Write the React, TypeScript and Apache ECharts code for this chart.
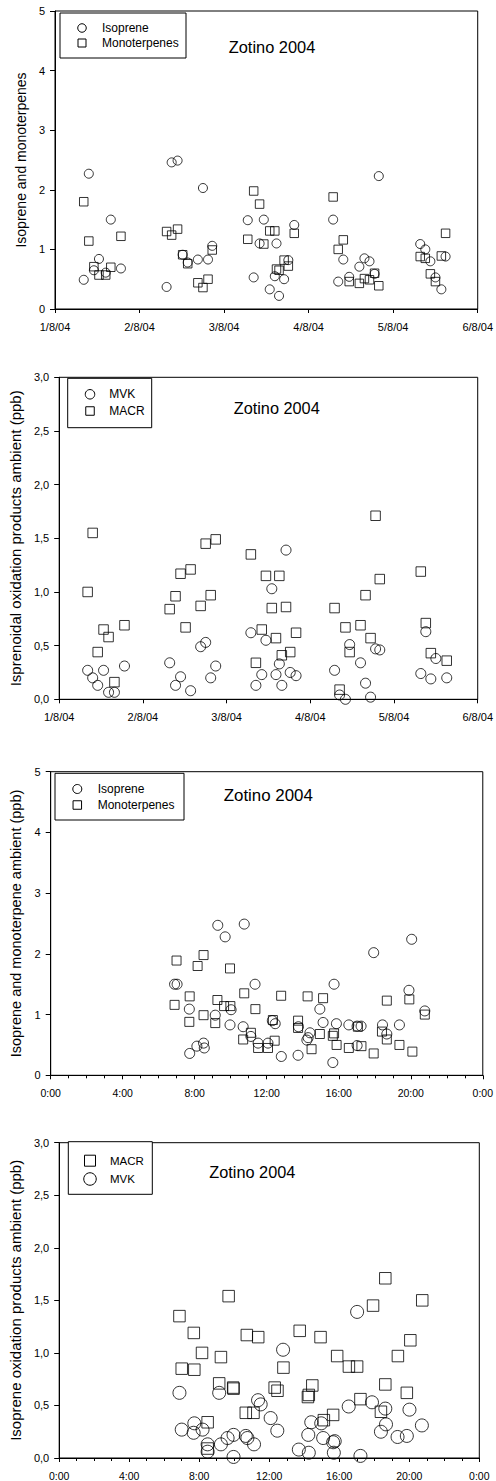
import React, { useEffect, useRef } from "react";
import * as echarts from "echarts";

// ---- Axis tick labels ----
const dateTicks = ["1/8/04", "2/8/04", "3/8/04", "4/8/04", "5/8/04", "6/8/04"];
const hourTicks = ["0:00", "4:00", "8:00", "12:00", "16:00", "20:00", "0:00"];

// ---- Panel 1: isoprene / monoterpenes by sampling time (days since 1/8/04) ----
const dailyTimes = [
  0.34, 0.40, 0.46, 0.52, 0.60, 0.66, 0.78,
  1.32, 1.38, 1.45, 1.51, 1.57, 1.69, 1.75, 1.81, 1.86,
  2.28, 2.35, 2.42, 2.47, 2.54, 2.60, 2.62, 2.65, 2.71, 2.76, 2.83,
  3.29, 3.35, 3.41, 3.48, 3.60, 3.66, 3.72, 3.78, 3.83,
  4.32, 4.38, 4.44, 4.50, 4.57, 4.62,
];
const isoprene = [
  0.49, 2.27, 0.65, 0.84, 0.61, 1.50, 0.68,
  0.37, 2.46, 2.49, 0.91, 0.78, 0.83, 2.03, 0.83, 1.06,
  1.49, 0.53, 1.10, 1.50, 0.33, 0.55, 1.10, 0.22, 0.50, 0.82, 1.41,
  1.50, 0.46, 0.83, 0.54, 0.71, 0.85, 0.80, 0.59, 2.23,
  1.09, 1.00, 0.80, 0.53, 0.33, 0.88,
];
const monoterpenes = [
  1.80, 1.14, 0.71, 0.57, 0.57, 0.70, 1.22,
  1.30, 1.24, 1.34, 0.91, 0.76, 0.44, 0.36, 0.50, 0.99,
  1.17, 1.98, 1.76, 1.09, 1.31, 1.31, 0.67, 0.65, 0.82, 0.72, 1.27,
  1.88, 1.00, 1.16, 0.46, 0.43, 0.51, 0.49, 0.60, 0.39,
  0.88, 0.85, 0.59, 0.46, 0.89, 1.27,
];

// ---- Panel 2: MVK / MACR by sampling time (days since 1/8/04) ----
const oxTimes = [
  0.34, 0.40, 0.46, 0.53, 0.59, 0.66, 0.78,
  1.32, 1.39, 1.45, 1.51, 1.57, 1.69, 1.75, 1.81, 1.87,
  2.29, 2.35, 2.42, 2.47, 2.54, 2.59, 2.63, 2.66, 2.71, 2.76, 2.83,
  3.29, 3.35, 3.42, 3.47, 3.60, 3.66, 3.72, 3.78, 3.83,
  4.32, 4.38, 4.44, 4.50, 4.63,
];
const mvk = [
  0.27, 0.20, 0.13, 0.27, 0.065, 0.065, 0.31,
  0.34, 0.13, 0.21, null, 0.08, 0.49, 0.53, 0.20, 0.31,
  0.62, 0.13, 0.23, 0.55, 1.03, 0.23, 0.33, 0.13, 1.39, 0.25, 0.22,
  0.27, 0.04, 0.00, 0.51, 0.34, 0.15, 0.02, 0.47, 0.46,
  0.24, 0.63, 0.19, 0.38, 0.20,
];
const macr = [
  1.00, 1.55, 0.44, 0.65, 0.58, 0.16, 0.69,
  0.84, 0.96, 1.17, 0.67, 1.21, 0.87, 1.45, 0.97, 1.49,
  1.35, 0.34, 0.65, 1.15, 0.85, 0.57, 1.15, 0.41, 0.86, 0.44, 0.62,
  0.85, 0.09, 0.67, 0.44, 0.69, 0.97, 0.57, 1.71, 1.12,
  1.19, 0.71, 0.43, null, 0.36,
];

// ---- Panel 3: isoprene / monoterpenes by hour of day ----
const isopreneHours = [
  6.88, 7.02, 7.70, 7.72, 8.12, 8.49, 8.53, 9.14, 9.28, 9.69, 9.96, 10.02,
  10.69, 10.75, 11.12, 11.35, 11.52, 12.07, 12.31, 12.47, 12.81, 13.74, 13.76,
  14.23, 14.30, 14.40, 14.95, 15.13, 15.67, 15.74, 15.87, 16.56, 17.02, 17.02,
  17.24, 17.94, 18.43, 18.67, 19.37, 19.90, 20.05, 20.78,
];
const isopreneDiurnal = [
  1.50, 1.50, 1.09, 0.36, 0.48, 0.53, 0.45, 0.99, 2.47, 2.28, 0.83, 1.08,
  0.80, 2.49, 0.64, 1.50, 0.53, 0.53, 0.90, 0.85, 0.31, 0.33, 0.80,
  0.58, 0.62, 0.70, 1.09, 0.87, 0.21, 1.50, 0.85, 0.83, 0.49, 0.81,
  0.81, 2.02, 0.83, 0.68, 0.83, 1.40, 2.24, 1.06,
];
const monoterpeneHours = [
  6.88, 6.99, 7.72, 7.70, 8.16, 8.49, 8.49, 9.14, 9.26, 9.63, 9.96, 9.98,
  10.69, 10.75, 11.12, 11.37, 11.52, 12.07, 12.34, 12.44, 12.80, 13.74, 13.74,
  14.27, 14.49, 14.95, 15.13, 15.67, 15.74, 15.88, 16.56, 17.06, 17.26, 17.94,
  18.40, 18.67, 18.67, 19.37, 19.92, 20.09, 20.78,
];
const monoterpeneDiurnal = [
  1.16, 1.89, 1.30, 0.88, 1.80, 1.98, 0.99, 0.86, 1.24, 1.14, 1.76, 1.14,
  0.59, 1.35, 0.70, 1.09, 0.45, 0.45, 0.91, 0.57, 1.31, 0.90, 0.78,
  1.30, 0.43, 0.68, 1.27, 0.65, 0.69, 0.50, 0.45, 0.80, 0.48, 0.36,
  0.72, 1.23, 0.59, 0.50, 1.25, 0.39, 1.00,
];

// ---- Panel 4: MACR / MVK by hour of day ----
const macrHours = [
  6.87, 7.00, 7.69, 7.72, 8.16, 8.48, 8.48, 9.14, 9.24, 9.68, 9.94, 9.96,
  10.66, 10.72, 11.10, 11.37, 12.31, 12.47, 12.81, 13.74, 14.21, 14.26, 14.46,
  14.93, 15.12, 15.65, 15.88, 16.55, 17.02, 17.21, 17.93, 18.38, 18.63, 18.63,
  19.35, 19.86, 20.06, 20.74,
];
const macrDiurnal = [
  1.35, 0.85, 1.19, 0.84, 1.00, 0.34, 0.09, 0.71, 0.96, 1.54, 0.67, 0.66,
  0.43, 1.17, 0.43, 1.15, 0.67, 0.64, 0.86, 1.21, 0.58, 0.60, 0.69,
  1.15, 0.36, 0.41, 0.97, 0.87, 0.87, 0.56, 1.45, 0.44, 0.70, 1.71,
  0.97, 0.62, 1.12, 1.50,
];
const mvkHours = [
  6.87, 7.00, 7.68, 7.72, 8.19, 8.48, 8.48, 9.14, 9.24, 9.62, 9.96, 9.96,
  10.66, 10.75, 11.13, 11.36, 11.51, 12.08, 12.46, 12.79, 13.69, 14.23, 14.26,
  14.40, 14.97, 15.08, 15.65, 15.69, 15.74, 16.54, 17.02, 17.21, 17.87, 18.38,
  18.63, 18.67, 19.33, 19.86, 20.01, 20.72,
];
const mvkDiurnal = [
  0.62, 0.27, 0.24, 0.33, 0.27, 0.13, 0.06, 0.62, 0.13, 0.19, 0.22, 0.01,
  0.21, 0.19, 0.13, 0.55, 0.51, 0.38, 0.26, 1.03, 0.08, 0.22, 0.05,
  0.34, 0.33, 0.19, 0.15, 0.05, 0.16, 0.49, 1.39, 0.02, 0.53, 0.25,
  0.47, 0.32, 0.20, 0.21, 0.46, 0.31,
];

const FONT = "'Liberation Sans', Arial, Helvetica, sans-serif";
const INK = "#000";

const pairs = (xs: number[], ys: (number | null)[]) =>
  xs
    .map((x, i) => (ys[i] == null ? null : [x, ys[i] as number]))
    .filter((p) => p !== null) as number[][];

const commaFmt = (v: number) => v.toFixed(1).replace(".", ",");

type Rect = { left: number; top: number; width: number; height: number };

const grids: Rect[] = [
  { left: 55, top: 11, width: 427, height: 298 },
  { left: 57.7, top: 377.3, width: 421.6, height: 322 },
  { left: 50.7, top: 771.7, width: 436.6, height: 303.6 },
  { left: 57.7, top: 1142.7, width: 421.6, height: 315.6 },
];

function xAxisFor(gridIndex: number, kind: "date" | "hour", fontSize: number) {
  const isDate = kind === "date";
  return {
    type: "value",
    gridIndex,
    min: 0,
    max: isDate ? 5 : 24,
    interval: isDate ? 1 : 4,
    axisLine: { show: true, onZero: false, lineStyle: { color: INK, width: 1 } },
    axisTick: { show: true, inside: false, length: 4, lineStyle: { color: INK, width: 1 } },
    minorTick: isDate
      ? { show: false }
      : { show: true, splitNumber: 4, length: 3, lineStyle: { color: INK, width: 1 } },
    splitLine: { show: false },
    axisLabel: {
      color: INK,
      fontSize,
      fontFamily: FONT,
      margin: 12,
      showMaxLabel: true,
      showMinLabel: true,
      formatter: (v: number) =>
        isDate ? dateTicks[Math.round(v)] : hourTicks[Math.round(v / 4)],
    },
  };
}

function yAxisFor(
  gridIndex: number,
  max: number,
  interval: number,
  comma: boolean,
  name: string,
  nameSize: number,
  nameGap: number
) {
  return {
    type: "value",
    gridIndex,
    min: 0,
    max,
    interval,
    name,
    nameLocation: "middle",
    nameGap,
    nameTextStyle: { color: INK, fontSize: nameSize, fontFamily: FONT },
    axisLine: { show: true, onZero: false, lineStyle: { color: INK, width: 1 } },
    axisTick: { show: true, inside: false, length: 5, lineStyle: { color: INK, width: 1 } },
    splitLine: { show: false },
    axisLabel: {
      color: INK,
      fontSize: 11,
      fontFamily: FONT,
      margin: 10,
      formatter: (v: number) => (comma ? commaFmt(v) : String(v)),
    },
  };
}

function scatter(
  name: string,
  idx: number,
  symbol: "circle" | "rect",
  size: number,
  data: number[][]
) {
  return {
    type: "scatter",
    name,
    xAxisIndex: idx,
    yAxisIndex: idx,
    symbol,
    symbolSize: size,
    data,
    itemStyle: { color: "rgba(0,0,0,0)", borderColor: INK, borderWidth: 1 },
    emphasis: { disabled: true },
  };
}

type KeyItem = { symbol: "circle" | "rect"; label: string; size: number; cy: number };

// Framed key drawn with plain shapes: box, hollow markers and labels
function keyBox(
  box: Rect,
  cx: number,
  textX: number,
  fontSize: number,
  items: KeyItem[]
) {
  const children: any[] = [
    {
      type: "rect",
      shape: { x: box.left, y: box.top, width: box.width, height: box.height },
      style: { fill: "#fff", stroke: INK, lineWidth: 1 },
    },
  ];
  items.forEach((it) => {
    if (it.symbol === "circle") {
      children.push({
        type: "circle",
        shape: { cx, cy: it.cy, r: it.size / 2 },
        style: { fill: "none", stroke: INK, lineWidth: 1 },
      });
    } else {
      children.push({
        type: "rect",
        shape: { x: cx - it.size / 2, y: it.cy - it.size / 2, width: it.size, height: it.size },
        style: { fill: "none", stroke: INK, lineWidth: 1 },
      });
    }
    children.push({
      type: "text",
      x: textX,
      y: it.cy,
      style: {
        text: it.label,
        fill: INK,
        fontSize,
        fontFamily: FONT,
        align: "left",
        verticalAlign: "middle",
        textAlign: "left",
        textVerticalAlign: "middle",
      },
    });
  });
  return { type: "group", children, z: 10 };
}

function titleText(label: string, x: number, y: number, fontSize: number) {
  return {
    type: "text",
    x,
    y,
    z: 10,
    style: {
      text: label,
      fill: INK,
      fontSize,
      fontFamily: FONT,
      align: "center",
      verticalAlign: "middle",
      textAlign: "center",
      textVerticalAlign: "middle",
    },
  };
}

export default function App() {
  const ref = useRef<HTMLDivElement>(null);

  useEffect(() => {
    if (!ref.current) return;
    const chart = echarts.init(ref.current, undefined, { renderer: "svg" });

    const option = {
      animation: false,
      backgroundColor: "#fff",
      grid: grids.map((g) => ({
        ...g,
        show: true,
        borderColor: INK,
        borderWidth: 1,
        backgroundColor: "transparent",
        containLabel: false,
      })),
      xAxis: [
        xAxisFor(0, "date", 11),
        xAxisFor(1, "date", 11),
        xAxisFor(2, "hour", 10.5),
        xAxisFor(3, "hour", 10.5),
      ],
      yAxis: [
        yAxisFor(0, 5, 1, false, "Isoprene and monoterpenes", 14, 26),
        yAxisFor(1, 3, 0.5, true, "Isprenoidal oxidation products ambient (ppb)", 15, 35),
        yAxisFor(2, 5, 1, false, "Isoprene and monoterpene ambient (ppb)", 14.5, 27),
        yAxisFor(3, 3, 0.5, true, "Isoprene oxidation products ambient (ppb)", 15, 33.5),
      ],
      series: [
        scatter("Isoprene", 0, "circle", 9, pairs(dailyTimes, isoprene)),
        scatter("Monoterpenes", 0, "rect", 8.5, pairs(dailyTimes, monoterpenes)),
        scatter("MVK", 1, "circle", 10, pairs(oxTimes, mvk)),
        scatter("MACR", 1, "rect", 9.5, pairs(oxTimes, macr)),
        scatter("Isoprene", 2, "circle", 10, pairs(isopreneHours, isopreneDiurnal)),
        scatter("Monoterpenes", 2, "rect", 9, pairs(monoterpeneHours, monoterpeneDiurnal)),
        scatter("MACR", 3, "rect", 11.5, pairs(macrHours, macrDiurnal)),
        scatter("MVK", 3, "circle", 13, pairs(mvkHours, mvkDiurnal)),
      ],
      graphic: [
        keyBox({ left: 60, top: 13, width: 126, height: 45 }, 82, 102, 12, [
          { symbol: "circle", label: "Isoprene", size: 8.5, cy: 28 },
          { symbol: "rect", label: "Monoterpenes", size: 8, cy: 43 },
        ]),
        titleText("Zotino 2004", 272, 47, 16.4),

        keyBox({ left: 67.7, top: 378.3, width: 84, height: 49.4 }, 90, 109.3, 12, [
          { symbol: "circle", label: "MVK", size: 9.5, cy: 394.3 },
          { symbol: "rect", label: "MACR", size: 8.5, cy: 411 },
        ]),
        titleText("Zotino 2004", 276.7, 407.7, 16.3),

        keyBox({ left: 55, top: 773.3, width: 129, height: 46.7 }, 77.3, 97.7, 12, [
          { symbol: "circle", label: "Isoprene", size: 9, cy: 789 },
          { symbol: "rect", label: "Monoterpenes", size: 8.5, cy: 805 },
        ]),
        titleText("Zotino 2004", 268.3, 795.7, 16.9),

        keyBox({ left: 68.3, top: 1141.7, width: 84, height: 52.6 }, 90, 110, 11.5, [
          { symbol: "rect", label: "MACR", size: 11, cy: 1160.7 },
          { symbol: "circle", label: "MVK", size: 12.5, cy: 1179 },
        ]),
        titleText("Zotino 2004", 252.3, 1172.3, 16.3),
      ],
    };

    chart.setOption(option as any);
    return () => chart.dispose();
  }, []);

  return (
    <div
      ref={ref}
      style={{ position: "absolute", left: 0, top: 0, width: 496, height: 1481 }}
    />
  );
}
